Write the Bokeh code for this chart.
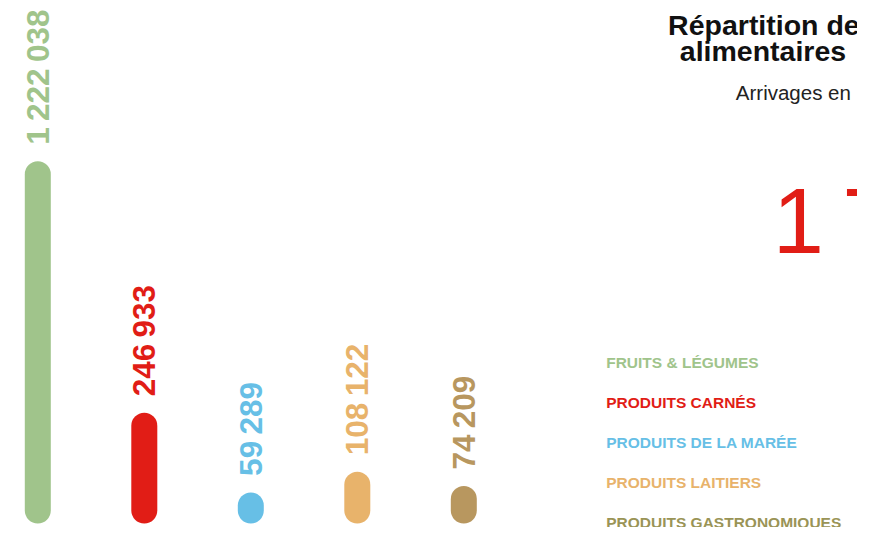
import numpy as np
from bokeh.plotting import figure
from bokeh.models import ColumnDataSource, Range1d, Label
from bokeh.core.properties import value
from bokeh.embed import file_html
from bokeh.resources import INLINE

# ---- data -------------------------------------------------------------
categories = ["FRUITS & LÉGUMES", "PRODUITS CARNÉS", "PRODUITS DE LA MARÉE",
              "PRODUITS LAITIERS", "PRODUITS GASTRONOMIQUES"]
arrivals = [1222038, 246933, 59289, 108122, 74209]
bar_colors = ["#a0c48b", "#e11d16", "#67bfe6", "#e8b36b", "#b8975f"]
legend_colors = ["#a0c48b", "#e11d16", "#67bfe6", "#e8b36b", "#9a9456"]
title_lines = ["Répartition des", "alimentaires"]
subtitle = "Arrivages en"

# ---- display constants ---------------------------------------------------
SEP = "\u2009"
BAR_BASE = 47000      # baseline of the rounded bars
BAR_CAP = 840000      # bars are clamped at the top of the drawing area
W, H = 857, 527

def fmt(v):
    return f"{v:,}".replace(",", SEP)

idx = np.arange(len(categories))
shown = np.minimum(np.array(arrivals), BAR_CAP)

src = ColumnDataSource(dict(
    x=idx, y0=[BAR_BASE] * len(idx), y1=shown,
    color=bar_colors, label=[fmt(v) for v in arrivals],
))

p = figure(width=W, height=H, output_backend="svg", toolbar_location=None,
           x_axis_type=None, y_axis_type=None, min_border=0,
           x_range=Range1d(-0.3502, 7.6967), y_range=Range1d(7150, 1249816))
p.outline_line_color = None
p.grid.visible = False
p.background_fill_color = "white"
p.border_fill_color = "white"

p.segment(x0="x", y0="y0", x1="x", y1="y1", source=src, line_color="color",
          line_width=26, line_cap="round")

p.text(x="x", y="y1", text="label", source=src, angle=np.pi / 2,
       text_align="left", text_baseline="middle", y_offset=-29.5,
       text_color="color", text_font=value("Liberation Sans"),
       text_font_style="bold", text_font_size="31.5px")

# ---- right side texts -------------------------------------------------
FONT = "Liberation Sans"
p.add_layout(Label(x=667.6, y=502.7, x_units="screen", y_units="screen",
                   text=title_lines[0], text_font=FONT, text_font_style="bold",
                   text_font_size="28.5px", text_color="#111111",
                   text_baseline="alphabetic", text_align="left"))
p.add_layout(Label(x=679.3, y=476.5, x_units="screen", y_units="screen",
                   text=title_lines[1], text_font=FONT, text_font_style="bold",
                   text_font_size="28.5px", text_color="#111111",
                   text_baseline="alphabetic", text_align="left"))
p.add_layout(Label(x=735.3, y=434.8, x_units="screen", y_units="screen",
                   text=subtitle, text_font=FONT, text_font_size="20.5px",
                   text_color="#222222", text_baseline="alphabetic",
                   text_align="left"))
p.add_layout(Label(x=772.2, y=306.7, x_units="screen", y_units="screen",
                   text=fmt(int(sum(arrivals))), text_font=FONT,
                   text_font_size="92px", text_color=bar_colors[1],
                   text_baseline="alphabetic", text_align="left"))

legend_y = [165.0, 125.2, 85.4, 44.7, 4.9]
for name, col, ly in zip(categories, legend_colors, legend_y):
    p.add_layout(Label(x=605.7, y=ly, x_units="screen", y_units="screen",
                       text=name, text_font=FONT, text_font_style="bold",
                       text_font_size="15.5px", text_color=col,
                       text_baseline="alphabetic", text_align="left"))

open("out.html", "w").write(file_html(p, INLINE))
